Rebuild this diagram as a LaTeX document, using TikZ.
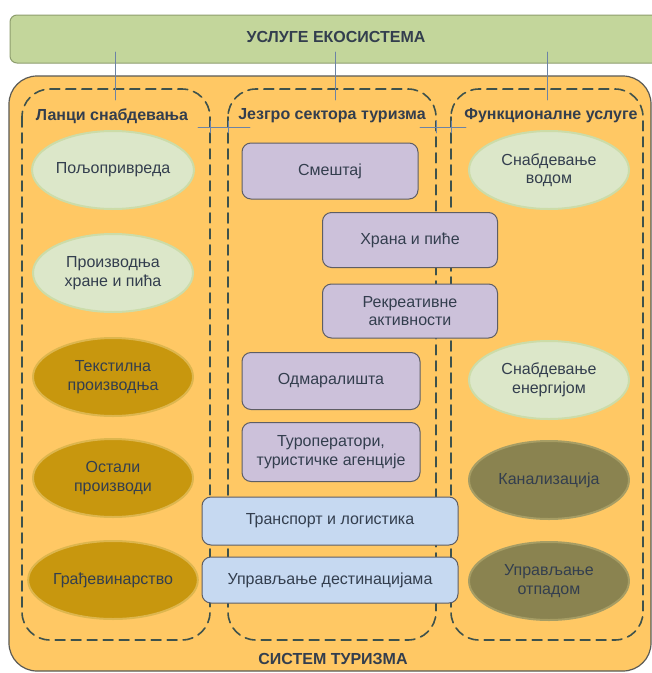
\documentclass[tikz,border=0pt]{standalone}
\usepackage{fontspec}
\setmainfont{Liberation Sans}
\usetikzlibrary{shapes.geometric}

\definecolor{ekobar}{HTML}{C3D69B}
\definecolor{ekorub}{HTML}{8E9E6E}
\definecolor{sistem}{HTML}{FFC864}
\definecolor{sistrub}{HTML}{5A5A55}
\definecolor{crtice}{HTML}{3E524C}
\definecolor{veza}{HTML}{6C83A5}
\definecolor{svzel}{HTML}{DCE7C9}
\definecolor{svzelrub}{HTML}{CCDCA8}
\definecolor{zlato}{HTML}{C8970E}
\definecolor{zlatorub}{HTML}{DDB64E}
\definecolor{maslina}{HTML}{8A8350}
\definecolor{maslinarub}{HTML}{A69D64}
\definecolor{ljub}{HTML}{CCC1DA}
\definecolor{plava}{HTML}{C6D9F1}
\definecolor{okvir}{HTML}{5E5E64}
\definecolor{slova}{HTML}{333E4E}

\begin{document}
\begin{tikzpicture}[line join=round, line cap=round, x=1pt, y=-1pt]
	\tikzset{every node/.style={font=\fontsize{16}{18.5}\selectfont, text=slova, align=center}}
	\tikzset{naslov/.style={font=\bfseries\fontsize{16}{18.5}\selectfont}}
	\tikzset{zona/.style={draw=crtice, line width=1.6pt, dash pattern=on 10pt off 6pt, rounded corners=28pt}}
	\tikzset{veza/.style={draw=veza, line width=0.8pt}}
	\tikzset{elip/.style={ellipse, line width=2pt, minimum width=160pt, minimum height=78pt, inner sep=0pt}}
	\tikzset{kutija/.style={rectangle, rounded corners=9pt, draw=okvir, line width=1pt, inner sep=0pt}}
	\useasboundingbox (0,0) rectangle (652,673);
	\fill[white] (0,0) rectangle (652,673);
	% okviri
	\draw[fill=sistem, draw=sistrub, line width=1.2pt, rounded corners=28pt] (9,76) rectangle (651,671);
	\draw[fill=ekobar, draw=ekorub, line width=1pt, rounded corners=7pt] (10,15) rectangle (690,63);
	\node[naslov] (eko) at (336,37) {УСЛУГЕ ЕКОСИСТЕМА};
	\node[naslov] (sis) at (333,659) {СИСТЕМ ТУРИЗМА};
	\draw[zona] (22,89) rectangle (210,640);
	\draw[zona] (228,89) rectangle (436,640);
	\draw[zona] (451,89) rectangle (643,640);
	\node[naslov] (lanci) at (112,116) {Ланци снабдевања};
	\node[naslov] (jezgro) at (332,116) {Језгро сектора туризма};
	\node[naslov] (funk) at (551,116) {Функционалне услуге};
	% veze
	\foreach \n/\x in {l/115,j/335,f/547}{
		\coordinate (gore\n) at (\x,52);
		\coordinate (dole\n) at (\x,100);
		\draw[veza] (gore\n) -- (dole\n);
	}
	\foreach \n/\a/\b in {lj/198/250,jf/420/466}{
		\coordinate (levo\n) at (\a,127);
		\coordinate (desno\n) at (\b,127);
		\draw[veza] (levo\n) -- (desno\n);
	}
	\foreach \x in {210,228,436,451}
	\draw[veza] (\x,121) -- (\x,133);
	% lanci snabdevanja
	\node[elip, fill=svzel, draw=svzelrub] (polj) at (113,170) {Пољопривреда};
	\node[elip, fill=svzel, draw=svzelrub] (hrpr) at (113,273) {Производња\\хране и пића};
	\node[elip, fill=zlato, draw=zlatorub] (tekst) at (113,377) {Текстилна\\производња};
	\node[elip, fill=zlato, draw=zlatorub] (ostali) at (113,478) {Остали\\производи};
	\node[elip, fill=zlato, draw=zlatorub] (gradj) at (113,580) {Грађевинарство};
	% funkcionalne usluge
	\node[elip, fill=svzel, draw=svzelrub] (voda) at (549,170) {Снабдевање\\водом};
	\node[elip, fill=svzel, draw=svzelrub] (energ) at (549,380) {Снабдевање\\енергијом};
	\node[elip, fill=maslina, draw=maslinarub] (kanal) at (549,480) {Канализација};
	\node[elip, fill=maslina, draw=maslinarub] (otpad) at (549,581) {Управљање\\отпадом};
	% jezgro
	\node[kutija, fill=ljub, minimum width=176pt, minimum height=56pt] (smest) at (330,171) {Смештај};
	\node[kutija, fill=ljub, minimum width=175pt, minimum height=55pt] (hrana) at (410,240) {Храна и пиће};
	\node[kutija, fill=ljub, minimum width=175pt, minimum height=54pt] (rekr) at (410,311) {Рекреативне\\активности};
	\node[kutija, fill=ljub, minimum width=178pt, minimum height=57pt] (odmor) at (331,381) {Одмаралишта};
	\node[kutija, fill=ljub, minimum width=178pt, minimum height=59pt] (turop) at (331,452) {Туроператори,\\туристичке агенције};
	\node[kutija, fill=plava, minimum width=256pt, minimum height=48pt] (transp) at (330,521) {Транспорт и логистика};
	\node[kutija, fill=plava, minimum width=256pt, minimum height=46pt] (uprav) at (330,580) {Управљање дестинацијама};
\end{tikzpicture}
\end{document}
